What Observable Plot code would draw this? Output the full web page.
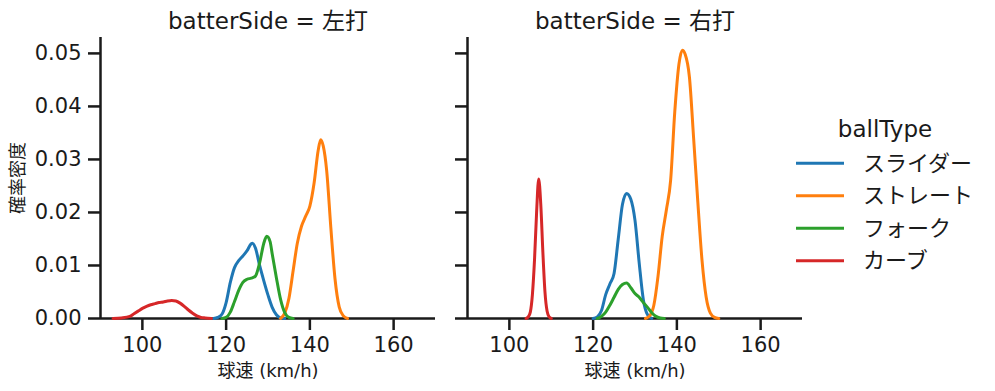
<!DOCTYPE html>
<html>
<head>
<meta charset="utf-8">
<script src="https://cdn.jsdelivr.net/npm/d3@7"></script>
<script src="https://cdn.jsdelivr.net/npm/@observablehq/plot@0.6"></script>
<style>
  body { margin: 0; background: white; }
  #wrap { position: relative; width: 995px; height: 391px; overflow: hidden; background: white; }
  #wrap > svg, #wrap > figure { position: absolute; top: 0; margin: 0; }
</style>
</head>
<body>
<div id="wrap"></div>
<script>
// ---- data ----
const ballTypes = ["スライダー", "ストレート", "フォーク", "カーブ"];
const ballColors = ["#1f77b4", "#ff7f0e", "#2ca02c", "#d62728"];
const panels = ["左打", "右打"];
const xTicks = [100, 120, 140, 160];
const yTicks = [0, 0.01, 0.02, 0.03, 0.04, 0.05];

// 左打: [球速, 確率密度]
const left_slider = [[117,0],[118,0.0002],[119,0.0008],[120,0.003],[121,0.0068],[122,0.0096],[123,0.0109],[124,0.0118],[125,0.0128],[126,0.0141],[126.3,0.0142],[127,0.0133],[128,0.0100],[129,0.0071],[130,0.0044],[131,0.0021],[132,0.0007],[133,0.0001],[134,0]];
const left_straight = [[133,0],[134,0.0010],[135,0.0038],[136,0.0090],[137,0.0142],[138,0.0174],[139,0.0193],[140,0.0212],[141,0.0255],[142,0.0318],[142.6,0.0337],[143.2,0.0325],[144,0.0280],[145,0.0172],[146,0.0075],[147,0.0022],[148,0.0005],[149,0]];
const left_fork = [[119,0],[120,0.0002],[121,0.0012],[122,0.0032],[123,0.0053],[124,0.0068],[125,0.0074],[126,0.0076],[127,0.0080],[128,0.0105],[129,0.0142],[129.7,0.0155],[130.5,0.0145],[131,0.0122],[132,0.0077],[133,0.0036],[134,0.0011],[135,0.0002],[136,0]];
const left_curve = [[93,0],[95,0.0001],[97,0.0004],[98,0.0009],[99,0.0014],[100,0.0019],[101,0.0023],[102,0.0026],[103,0.0028],[104,0.0030],[105,0.0031],[106,0.0033],[107,0.0034],[108,0.0033],[109,0.0029],[110,0.0023],[111,0.0016],[112,0.0010],[113,0.0005],[114,0.0002],[115,0.0001],[116.5,0]];

// 右打
const right_slider = [[120,0],[121,0.0003],[122,0.0015],[123,0.0045],[124,0.0065],[125,0.0085],[126,0.0150],[127,0.0215],[128,0.0236],[129,0.0225],[130,0.0185],[131,0.0105],[132,0.0035],[133,0.0007],[134,0]];
const right_straight = [[132.5,0],[133.5,0.0005],[134.5,0.0025],[135.5,0.0080],[136.5,0.0155],[137.5,0.0205],[138.5,0.0260],[139.5,0.0390],[140.5,0.0480],[141.3,0.0506],[142,0.0498],[143,0.0455],[144,0.0340],[145,0.0220],[146,0.0110],[147,0.0040],[148,0.0010],[149,0.0002],[150,0]];
const right_fork = [[121,0],[122,0.0004],[123,0.0012],[124,0.0025],[125,0.0040],[126,0.0055],[127,0.0064],[128,0.0067],[129,0.0058],[130,0.0047],[131,0.0040],[132,0.0030],[133,0.0021],[134,0.0011],[135,0.0004],[136,0.0001],[137,0]];
const right_curve = [[104,0],[104.5,0.0003],[105,0.0012],[105.5,0.0045],[106,0.0110],[106.5,0.0200],[107,0.0263],[107.5,0.0215],[108,0.0125],[108.5,0.0050],[109,0.0014],[109.5,0.0003],[110,0]];

const seriesByPanel = {
  "左打": [left_slider, left_straight, left_fork, left_curve],
  "右打": [right_slider, right_straight, right_fork, right_curve]
};

const FONT = "'DejaVu Sans', 'Noto Sans CJK JP', sans-serif";
const INK = "#1a1a1a";
const wrap = document.getElementById("wrap");

function rows(panel) {
  const out = [];
  seriesByPanel[panel].forEach((s, i) => s.forEach(([x, y]) => out.push({type: ballTypes[i], x, y})));
  return out;
}

function panelPlot(panel, first) {
  const data = rows(panel);
  const marks = [
    Plot.ruleX([90], {stroke: INK, strokeWidth: 2.5}),
    Plot.ruleY([0], {stroke: INK, strokeWidth: 2.5}),
    Plot.axisX({ticks: xTicks, tickSize: 12, tickPadding: 7, strokeWidth: 2.5, stroke: INK, fill: INK, label: null}),
    Plot.axisY({ticks: yTicks, tickSize: 12, tickPadding: 7, strokeWidth: 2.5, stroke: INK, fill: INK, label: null,
      tickFormat: first ? d3.format(".2f") : () => ""}),
    Plot.line(data, {x: "x", y: "y", stroke: "type", z: "type", strokeWidth: 3, curve: "monotone-x", strokeLinejoin: "round"}),
    Plot.text(["batterSide = " + panel], {frameAnchor: "top", lineAnchor: "middle", dy: -16, fontSize: 23, fill: INK}),
    Plot.text(["球速 (km/h)"], {frameAnchor: "bottom", lineAnchor: "middle", dy: 52.5, fontSize: 18, fill: INK})
  ];
  if (first) marks.push(Plot.text(["確率密度"], {frameAnchor: "left", textAnchor: "middle", lineAnchor: "middle", dx: -82, rotate: -90, fontSize: 18, fill: INK}));
  return Plot.plot({
    width: first ? 445 : 365,
    height: 391,
    marginLeft: first ? 100 : 20,
    marginRight: 10,
    marginTop: 37,
    marginBottom: 73,
    x: {domain: [90, 170]},
    y: {domain: [0, 0.053]},
    color: {domain: ballTypes, range: ballColors},
    style: {fontFamily: FONT, fontSize: "21px", color: INK, background: "transparent", overflow: "visible"},
    marks
  });
}

const p1 = panelPlot("左打", true);
p1.style.left = "0px";
wrap.appendChild(p1);
const p2 = panelPlot("右打", false);
p2.style.left = "447px";
wrap.appendChild(p2);

// legend
const leg = d3.select(wrap).append("svg")
  .attr("width", 200).attr("height", 200)
  .style("left", "795px").style("top", "100px")
  .style("font-family", FONT).style("position", "absolute");
leg.append("text").attr("x", 90).attr("y", 29).attr("text-anchor", "middle")
  .attr("dominant-baseline", "central").attr("font-size", 23).attr("fill", INK).text("ballType");
ballTypes.forEach((t, i) => {
  const y = 63.3 + i * 32.5;
  leg.append("line").attr("x1", 1).attr("x2", 49).attr("y1", y).attr("y2", y)
    .attr("stroke", ballColors[i]).attr("stroke-width", 3);
  leg.append("text").attr("x", 68).attr("y", y).attr("dominant-baseline", "central")
    .attr("font-size", 22).attr("fill", INK).text(t);
});
</script>
</body>
</html>
